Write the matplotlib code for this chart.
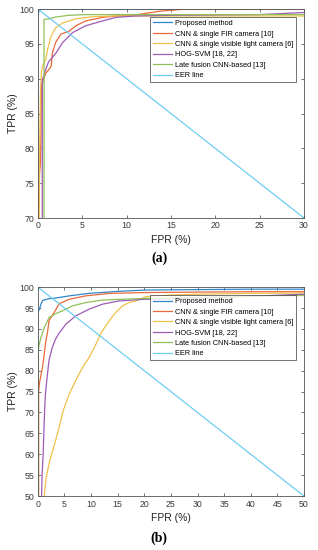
import matplotlib
matplotlib.use("Agg")
import matplotlib.pyplot as plt

plt.rcParams['font.family'] = ['Liberation Sans', 'DejaVu Sans']

labels = ["Proposed method", "CNN & single FIR camera [10]",
          "CNN & single visible light camera [6]", "HOG-SVM [18, 22]",
          "Late fusion CNN-based [13]", "EER line"]
colors = ["#2f86c9", "#e8693a", "#f2c04a", "#9b5bb5", "#8fc158", "#6fcdf2"]

# ---------------- panel (a) ----------------
prop_a_fpr = [0, 0, 0.35, 30]
prop_a_tpr = [70, 99.5, 100, 100]
fir_a_fpr = [0.05, 0.1, 0.2, 0.3, 0.35, 0.4, 0.6, 0.9, 1.3, 1.5, 1.65, 2.0, 2.6, 3.5, 4.3, 5.4, 7.3, 8.8, 10.7, 13.8, 16.8, 30]
fir_a_tpr = [70, 72, 76.5, 78, 82, 88.9, 89.8, 90.8, 91.4, 91.8, 93.7, 95.2, 96.4, 96.8, 97.6, 98.3, 98.8, 99.0, 99.1, 99.7, 100, 100]
vis_a_fpr = [0.15, 0.2, 0.3, 0.4, 0.6, 0.9, 1.1, 1.5, 2.0, 2.8, 4.3, 6.2, 8.4, 12, 30]
vis_a_tpr = [70, 80, 88, 91, 92, 92.8, 94.2, 96.1, 97.3, 98.0, 98.6, 98.9, 99.0, 99.0, 99.0]
hog_a_fpr = [0.5, 0.5, 0.8, 1.2, 1.6, 2.0, 2.8, 3.9, 5.4, 7.3, 8.8, 11, 15, 25, 30]
hog_a_tpr = [70, 89.8, 91.0, 92.4, 93.0, 93.6, 95.2, 96.6, 97.6, 98.3, 98.8, 99.0, 99.1, 99.2, 99.5]
late_a_fpr = [0.7, 0.7, 1.3, 2.0, 3.5, 5.4, 30]
late_a_tpr = [70, 98.5, 98.6, 98.85, 99.1, 99.2, 99.2]
eer_a_fpr = [0, 30]
eer_a_tpr = [100, 70]

# ---------------- panel (b) ----------------
prop_b_fpr = [0, 0, 0.3, 0.6, 0.9, 2.0, 3.4, 5.9, 9.6, 15.3, 20.3, 30, 40, 50]
prop_b_tpr = [50, 94, 94.7, 96, 96.8, 97.2, 97.4, 97.9, 98.5, 99.0, 99.3, 99.4, 99.5, 99.5]
fir_b_fpr = [0.15, 0.15, 0.3, 0.6, 0.9, 1.2, 1.5, 1.8, 2.1, 2.6, 3.1, 4.0, 5.9, 9.0, 13.4, 20.3, 30, 40, 50]
fir_b_tpr = [50, 75, 77, 79, 81, 84, 87.1, 89, 92, 93, 94, 96, 97.1, 97.9, 98.5, 98.7, 98.8, 98.9, 98.9]
vis_b_fpr = [1.2, 1.5, 2.25, 2.6, 3.2, 4.1, 4.8, 5.9, 7.1, 8.4, 9.6, 10.9, 12.1, 13.4, 14.6, 15.9, 17.1, 18.4, 20.3, 25, 30, 40, 50]
vis_b_tpr = [50, 54, 58.6, 60, 62.7, 67, 70.6, 74.4, 77.6, 80.8, 83.1, 86.3, 89.5, 91.9, 93.9, 95.5, 96.3, 96.7, 97.7, 98.1, 98.3, 98.5, 98.6]
hog_b_fpr = [0.7, 0.8, 1.0, 1.2, 1.4, 1.7, 2.1, 2.7, 3.3, 4.0, 5.25, 7.1, 9.6, 12.1, 15.3, 20.3, 30, 40, 50]
hog_b_tpr = [50, 55, 60, 68, 74, 78, 82.5, 85.5, 87.5, 89, 91.1, 93.1, 94.7, 95.9, 96.7, 97.1, 97.3, 97.8, 98.3]
late_b_fpr = [0.1, 0.1, 0.3, 0.6, 1.2, 2.1, 3.4, 4.6, 6.5, 9, 12.1, 15.9, 20.3, 30, 40, 50]
late_b_tpr = [50, 85, 86.5, 88, 90.3, 92.7, 93.7, 94.3, 95.5, 96.3, 96.9, 97.1, 97.3, 97.5, 97.8, 98.0]
eer_b_fpr = [0, 50]
eer_b_tpr = [100, 50]

xticks_a = [0, 5, 10, 15, 20, 25, 30]
yticks_a = [70, 75, 80, 85, 90, 95, 100]
xticks_b = [0, 5, 10, 15, 20, 25, 30, 35, 40, 45, 50]
yticks_b = [50, 55, 60, 65, 70, 75, 80, 85, 90, 95, 100]

fig = plt.figure(figsize=(3.18, 5.5), dpi=100)
axa = fig.add_axes([0.119, 0.6036, 0.837, 0.38])
axb = fig.add_axes([0.119, 0.098, 0.837, 0.38])

axcol = '#3a3a3a'

def draw(ax, series, xlim, ylim, xticks, yticks, caption, cap_y):
    for (x, y), c, lab in zip(series, colors, labels):
        ax.plot(x, y, color=c, lw=0.9, label=lab)
    ax.set_xlim(*xlim)
    ax.set_ylim(*ylim)
    ax.set_xticks(xticks)
    ax.set_yticks(yticks)
    ax.tick_params(direction='in', top=True, right=True, length=2.5, width=0.5,
                   labelsize=6.3, colors=axcol, pad=2.5)
    for s in ax.spines.values():
        s.set_color('#555555')
        s.set_linewidth(0.6)
    ax.set_xlabel('FPR (%)', fontsize=7.5, color='#222222', labelpad=3)
    ax.set_ylabel('TPR (%)', fontsize=7.5, color='#222222', labelpad=1)
    leg = ax.legend(loc='upper right', bbox_to_anchor=(0.97, 0.962), fontsize=5.3,
                    frameon=True, fancybox=False, handlelength=2.5, handletextpad=0.4,
                    labelspacing=0.45, borderpad=0.4, borderaxespad=0)
    leg.get_frame().set_edgecolor('#333333')
    leg.get_frame().set_linewidth(0.6)
    fig.text(0.5, cap_y, caption, ha='center', va='center', fontsize=10,
             family=['Liberation Serif', 'DejaVu Serif'], weight='bold')

draw(axa, [(prop_a_fpr, prop_a_tpr), (fir_a_fpr, fir_a_tpr), (vis_a_fpr, vis_a_tpr),
           (hog_a_fpr, hog_a_tpr), (late_a_fpr, late_a_tpr), (eer_a_fpr, eer_a_tpr)],
     (0, 30), (70, 100), xticks_a, yticks_a, '(a)', 1 - 258 / 550)
draw(axb, [(prop_b_fpr, prop_b_tpr), (fir_b_fpr, fir_b_tpr), (vis_b_fpr, vis_b_tpr),
           (hog_b_fpr, hog_b_tpr), (late_b_fpr, late_b_tpr), (eer_b_fpr, eer_b_tpr)],
     (0, 50), (50, 100), xticks_b, yticks_b, '(b)', 1 - 538 / 550)

fig.savefig('out.png', dpi=100)
